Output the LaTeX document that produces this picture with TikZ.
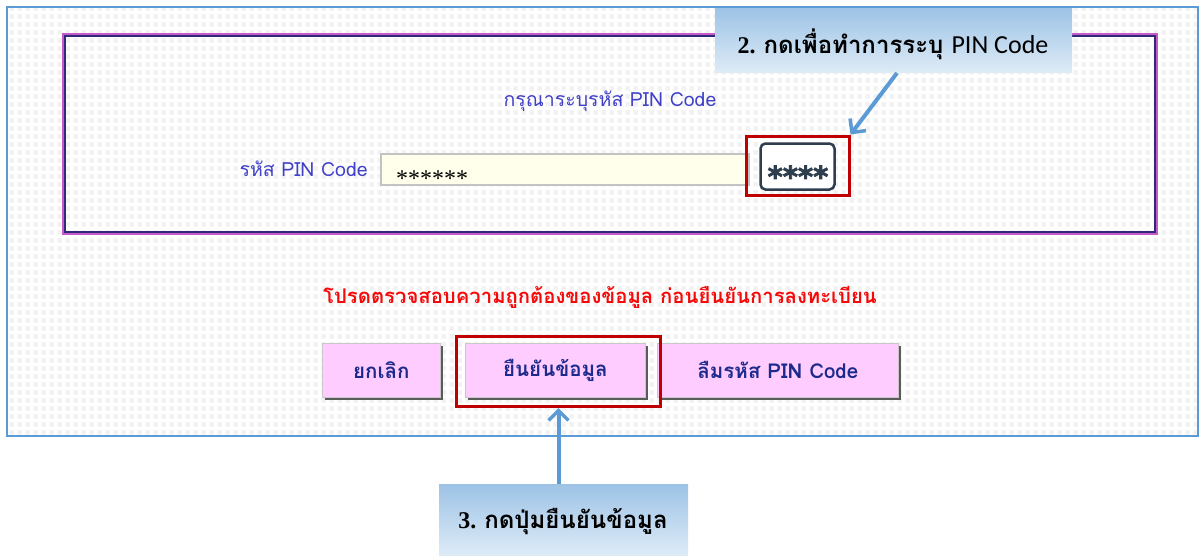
\documentclass[tikz,border=0pt]{standalone}
\usepackage{fontspec}
\usetikzlibrary{arrows.meta,patterns}
\newfontfamily\thaifont[Script=Thai]{Loma}
\newfontfamily\calibri{Carlito}
\newfontfamily\timesf{Liberation Serif}
\newfontfamily\keyfont[BoldFeatures={FakeBold=2.5}]{DejaVu Sans}

\definecolor{framebl}{RGB}{91,155,213}
\definecolor{dotgray}{RGB}{242,242,242}
\definecolor{uiblue}{RGB}{64,64,200}
\definecolor{btntext}{RGB}{28,42,140}
\definecolor{btnpink}{RGB}{255,204,255}
\definecolor{warnred}{RGB}{245,10,10}
\definecolor{markred}{RGB}{192,0,0}
\definecolor{fieldbg}{RGB}{255,255,236}
\definecolor{keyslate}{RGB}{47,62,78}
\definecolor{calltop}{RGB}{157,195,230}
\definecolor{callbot}{RGB}{222,235,247}
\definecolor{framepink}{RGB}{200,90,200}
\definecolor{framenavy}{RGB}{48,40,120}

% small grey squares of the page background
\pgfdeclarepatternformonly{pagedots}{\pgfpointorigin}{\pgfpoint{8pt}{8pt}}{\pgfpoint{8pt}{8pt}}{%
  \pgfpathrectangle{\pgfpoint{1.5pt}{1.5pt}}{\pgfpoint{5pt}{5pt}}\pgfusepath{fill}}

\tikzset{
  uitext/.style={text=uiblue,font=\thaifont\fontsize{19.5}{22}\selectfont,inner sep=0pt},
  btn/.style={fill=btnpink,draw={rgb,255:red,200;green,200;blue,200},line width=0.8pt,
    text=btntext,font=\thaifont\bfseries\fontsize{20.5}{22}\selectfont},
  btnshadow/.style={fill={rgb,255:red,90;green,90;blue,90}},
  redmark/.style={draw=markred,line width=3pt},
  callout/.style={top color=calltop,bottom color=callbot,draw=none},
  callarrow/.style={draw=framebl,line width=4pt,-{Straight Barb[length=10pt,width=20pt,line width=3.5pt]}},
}

\begin{document}
\begin{tikzpicture}[x=1pt,y=-1pt]
\useasboundingbox (0,0) rectangle (1200,555);
\fill[white] (0,0) rectangle (1200,555);

% page area with dotted background
\coordinate (pageNW) at (7,7);
\coordinate (pageSE) at (1198,436);
\fill[pattern=pagedots,pattern color=dotgray] (pageNW) rectangle (pageSE);
\draw[framebl,line width=2pt] (pageNW) rectangle (pageSE);

% PIN entry panel
\draw[framepink,line width=2pt] (63,34) rectangle (1157,234);
\draw[framenavy,line width=2pt] (65,36) rectangle (1155,232);

\node[uitext] (title) at (610,101) {กรุณาระบุรหัส PIN Code};
\node[uitext,anchor=east] (pinlabel) at (368,169) {รหัส PIN Code};

\node[draw={rgb,255:red,195;green,195;blue,195},line width=1.5pt,fill=fieldbg,
  minimum width=368pt,minimum height=31pt,anchor=north west,inner sep=0pt] (field) at (380,153) {};
\node[anchor=west,inner sep=0pt,font=\timesf\fontsize{24}{24}\selectfont] (stars) at (396,179) {******};

% keypad button with its highlight
\node[draw=keyslate,line width=2.5pt,rounded corners=5pt,fill=white,
  minimum width=74pt,minimum height=46pt,inner sep=0pt] (keypad) at (797.5,166.5) {};
\node[anchor=base,inner sep=0pt,text=keyslate,font=\keyfont\bfseries\fontsize{29}{29}\selectfont] (keystars) at (798,187) {****};
\node[redmark,minimum width=103pt,minimum height=59pt,inner sep=0pt] (keymark) at (797.5,165.5) {};

% warning line
\node[text=warnred,font=\thaifont\bfseries\fontsize{20.3}{22}\selectfont,inner sep=0pt] (warn) at (600,297)
  {โปรดตรวจสอบความถูกต้องของข้อมูล ก่อนยืนยันการลงทะเบียน};

% buttons
\fill[btnshadow] (325,346) rectangle (443,400);
\node[btn,minimum width=118pt,minimum height=54pt,anchor=north west,inner sep=0pt] (cancel) at (322,343) {ยกเลิก};
\fill[btnshadow] (468,346) rectangle (648,400);
\node[btn,minimum width=180pt,minimum height=54pt,anchor=north west,inner sep=0pt] (confirm) at (465,343) {ยืนยันข้อมูล};
\fill[btnshadow] (660,346) rectangle (901,400);
\node[btn,minimum width=241pt,minimum height=54pt,anchor=north west,inner sep=0pt] (forgot) at (657,343) {ลืมรหัส PIN Code};
\node[redmark,minimum width=204pt,minimum height=70pt,inner sep=0pt,anchor=north west] (confirmmark) at (455,335) {};

% callouts
\node[callout,minimum width=357pt,minimum height=64pt,anchor=north west,inner sep=0pt] (step2) at (715,8) {};
\node[inner sep=0pt] (step2text) at (893,44)
  {\timesf\bfseries\fontsize{24}{26}\selectfont 2. \thaifont\bfseries กดเพื่อทำการระบุ \calibri\mdseries\fontsize{26}{26}\selectfont PIN Code};
\node[callout,minimum width=249pt,minimum height=71pt,anchor=north west,inner sep=0pt] (step3) at (439,484) {};
\node[inner sep=0pt] (step3text) at (563,522)
  {\timesf\bfseries\fontsize{24}{26}\selectfont 3. \thaifont\bfseries กดปุ่มยืนยันข้อมูล};

\coordinate (a2start) at (897,73);
\draw[callarrow] (a2start) -- (keymark.north east);
\draw[callarrow] (step3.north -| confirmmark.south) -- (confirmmark.south);
\end{tikzpicture}
\end{document}
